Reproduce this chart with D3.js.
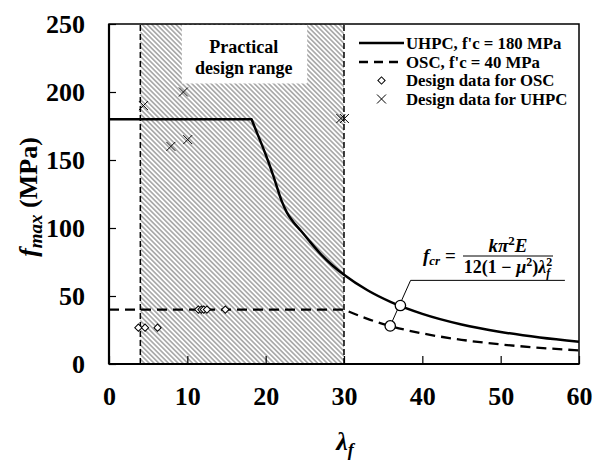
<!DOCTYPE html>
<html>
<head>
<meta charset="utf-8">
<script src="https://cdn.jsdelivr.net/npm/d3@7"></script>
<style>
  body { margin: 0; background: #fff; }
  text { font-family: "Liberation Serif", "Times New Roman", serif; font-weight: bold; }
</style>
</head>
<body>
<script>
// UHPC curve (f'c = 180 MPa)
var uhpcLambda = [0, 18.2, 19, 20, 21, 22, 22.7, 23.5, 24.5, 25.5, 27, 28.5, 30, 33, 36, 40, 45, 50, 55, 60];
var uhpcF      = [180, 180, 168.5, 154, 138, 120.5, 111.5, 104.6, 98, 91, 81, 72.6, 65.6, 54.2, 45.5, 36.9, 29.1, 23.6, 19.5, 16.4];

// OSC curve (f'c = 40 MPa)
var oscLambda = [0, 30, 33, 36, 40, 45, 50, 55, 60];
var oscF      = [40, 40, 33.2, 27.8, 22.5, 17.8, 14.4, 11.9, 10];

// design data points
var oscDataLambda = [3.75, 4.6, 6.2, 11.4, 11.8, 12.1, 12.5, 14.85];
var oscDataF      = [26.7, 26.7, 26.7, 40, 40, 40, 40, 40];
var uhpcDataLambda = [4.4, 9.5, 7.9, 10.05, 29.6, 30.05];
var uhpcDataF      = [190, 200, 160, 165, 180.5, 180.5];

// practical design range
var rangeLambda = [4, 30];

var xTicks = [0, 10, 20, 30, 40, 50, 60];
var yTicks = [0, 50, 100, 150, 200, 250];

var legendLabels = ["UHPC, f'c = 180 MPa", "OSC, f'c = 40 MPa", "Design data for OSC", "Design data for UHPC"];

var width = 593,
    height = 460;
var margin = {left: 109, right: 14, top: 24, bottom: 96};

var svg = d3.select('body')
  .append('svg')
  .attr('width', width)
  .attr('height', height);

var x = d3.scaleLinear().domain([0, 60]).range([margin.left, width - margin.right]);
var y = d3.scaleLinear().domain([0, 250]).range([height - margin.bottom, margin.top]);

// hatch pattern
var defs = svg.append('defs');
defs.append('pattern')
  .attr('id', 'hatch')
  .attr('patternUnits', 'userSpaceOnUse')
  .attr('width', 3.4)
  .attr('height', 3.4)
  .attr('patternTransform', 'rotate(45)')
  .append('line')
  .attr('x1', -1).attr('x2', 5)
  .attr('y1', 1.7).attr('y2', 1.7)
  .attr('stroke', '#a0a0a0')
  .attr('stroke-width', 1.5);

svg.append('rect')
  .attr('x', x(rangeLambda[0]))
  .attr('y', y(250))
  .attr('width', x(rangeLambda[1]) - x(rangeLambda[0]))
  .attr('height', y(0) - y(250))
  .attr('fill', 'url(#hatch)');

// white box behind the range label
svg.append('rect')
  .attr('x', x(9.3))
  .attr('y', y(250) + 1)
  .attr('width', x(25.3) - x(9.3))
  .attr('height', y(207) - y(250))
  .attr('fill', '#fff');

svg.append('text')
  .attr('text-anchor', 'middle')
  .attr('font-size', 18)
  .selectAll('tspan')
  .data(['Practical', 'design range'])
  .enter()
  .append('tspan')
  .attr('x', x(17.2))
  .attr('y', function(d, i) { return y(250) + 29 + i * 21; })
  .text(function(d) { return d; });

// range boundaries
rangeLambda.forEach(function(v) {
  svg.append('line')
    .attr('x1', x(v)).attr('x2', x(v))
    .attr('y1', y(0)).attr('y2', y(250))
    .attr('stroke', '#000')
    .attr('stroke-width', 1.5)
    .attr('stroke-dasharray', '6,3');
});

// curves: flat plateau drawn straight, the falling branch smoothed
var line = d3.line()
  .x(function(d) { return x(d[0]); })
  .y(function(d) { return y(d[1]); });

var smooth = d3.line()
  .x(function(d) { return x(d[0]); })
  .y(function(d) { return y(d[1]); })
  .curve(d3.curveMonotoneX);

var uhpc = uhpcLambda.map(function(v, i) { return [v, uhpcF[i]]; });
var osc = oscLambda.map(function(v, i) { return [v, oscF[i]]; });

svg.append('path')
  .attr('d', line(osc.slice(0, 2)) + smooth(osc.slice(1)).replace(/^M/, 'L'))
  .attr('fill', 'none')
  .attr('stroke', '#000')
  .attr('stroke-width', 2.3)
  .attr('stroke-dasharray', '10,6');

svg.append('path')
  .attr('d', line(uhpc.slice(0, 3)) + smooth(uhpc.slice(2)).replace(/^M/, 'L'))
  .attr('fill', 'none')
  .attr('stroke', '#000')
  .attr('stroke-width', 2.5)
  .attr('stroke-linejoin', 'round');

// design data markers
var diamond = d3.symbol().type(d3.symbolSquare).size(26);
var crossPath = 'M-4.5,-4.5L4.5,4.5M-4.5,4.5L4.5,-4.5';

svg.selectAll('.osc-pt')
  .data(oscDataLambda)
  .enter()
  .append('path')
  .attr('class', 'osc-pt')
  .attr('d', diamond)
  .attr('transform', function(d, i) { return 'translate(' + x(d) + ',' + y(oscDataF[i]) + ') rotate(45)'; })
  .attr('fill', '#fff')
  .attr('stroke', '#000')
  .attr('stroke-width', 1);

svg.selectAll('.uhpc-x')
  .data(uhpcDataLambda)
  .enter()
  .append('path')
  .attr('class', 'uhpc-x')
  .attr('d', crossPath)
  .attr('transform', function(d, i) { return 'translate(' + x(d) + ',' + y(uhpcDataF[i]) + ')'; })
  .attr('fill', 'none')
  .attr('stroke', '#000')
  .attr('stroke-width', 1);

// axes
var xAxis = d3.axisBottom(x)
  .tickValues(xTicks)
  .tickSizeInner(-8)
  .tickSizeOuter(0)
  .tickPadding(23);

var yAxis = d3.axisLeft(y)
  .tickValues(yTicks)
  .tickSizeInner(-7)
  .tickSizeOuter(0)
  .tickPadding(24);

var gx = svg.append('g')
  .attr('transform', 'translate(0,' + y(0) + ')')
  .call(xAxis);

var gy = svg.append('g')
  .attr('transform', 'translate(' + x(0) + ',0)')
  .call(yAxis);

[gx, gy].forEach(function(g) {
  g.selectAll('text')
    .attr('font-family', '"Liberation Serif", "Times New Roman", serif')
    .attr('font-weight', 'bold')
    .attr('font-size', 26)
    .attr('fill', '#000');
  g.selectAll('line').attr('stroke', '#000').attr('stroke-width', 1.2);
  g.select('.domain').remove();
});

// frame
svg.append('rect')
  .attr('x', x(0)).attr('y', y(250))
  .attr('width', x(60) - x(0))
  .attr('height', y(0) - y(250))
  .attr('fill', 'none')
  .attr('stroke', '#000')
  .attr('stroke-width', 1.5);

svg.append('line')
  .attr('x1', x(0)).attr('x2', x(60))
  .attr('y1', y(0)).attr('y2', y(0))
  .attr('stroke', '#000').attr('stroke-width', 2.2);
svg.append('line')
  .attr('x1', x(0)).attr('x2', x(0))
  .attr('y1', y(0)).attr('y2', y(250))
  .attr('stroke', '#000').attr('stroke-width', 2.2);

// axis titles
svg.append('text')
  .attr('transform', 'translate(37,' + ((y(0) + y(250)) / 2 + 3) + ') rotate(-90)')
  .attr('text-anchor', 'middle')
  .attr('font-size', 26)
  .call(function(t) {
    t.append('tspan').attr('font-style', 'italic').text('f');
    t.append('tspan').attr('font-style', 'italic').attr('font-size', 19).attr('dy', 5).text('max');
    t.append('tspan').attr('dy', -5).text(' (MPa)');
  });

svg.append('text')
  .attr('x', x(30) + 1)
  .attr('y', 450)
  .attr('text-anchor', 'middle')
  .attr('font-size', 26)
  .call(function(t) {
    t.append('tspan').attr('font-style', 'italic').text('λ');
    t.append('tspan').attr('font-style', 'italic').attr('font-size', 18).attr('dy', 6).text('f');
  });

// legend
var legend = svg.append('g');
var legY = [43, 62, 80.5, 99];
var lx0 = 359, lx1 = 404;

legend.append('line')
  .attr('x1', lx0).attr('x2', lx1).attr('y1', legY[0]).attr('y2', legY[0])
  .attr('stroke', '#000').attr('stroke-width', 2.5);
legend.append('line')
  .attr('x1', lx0).attr('x2', lx1).attr('y1', legY[1]).attr('y2', legY[1])
  .attr('stroke', '#000').attr('stroke-width', 2.3).attr('stroke-dasharray', '9,6');
legend.append('path')
  .attr('d', diamond)
  .attr('transform', 'translate(' + (lx0 + lx1) / 2 + ',' + legY[2] + ') rotate(45)')
  .attr('fill', '#fff').attr('stroke', '#000').attr('stroke-width', 1);
legend.append('path')
  .attr('d', crossPath)
  .attr('transform', 'translate(' + (lx0 + lx1) / 2 + ',' + legY[3] + ')')
  .attr('stroke', '#000').attr('stroke-width', 1);

legend.selectAll('.leg-text')
  .data(legendLabels)
  .enter()
  .append('text')
  .attr('class', 'leg-text')
  .attr('x', 406)
  .attr('y', function(d, i) { return legY[i]; })
  .attr('dy', '0.35em')
  .attr('font-size', 16.8)
  .text(function(d) { return d; });

// formula annotation with leader line
var circU = [37.2, 43], circO = [35.9, 28];
var knee = [38.5, 61.5], lineEnd = 58.2;

svg.append('path')
  .attr('d', 'M' + x(lineEnd) + ',' + y(knee[1]) + 'L' + x(knee[0]) + ',' + y(knee[1]) + 'L' + x(circO[0]) + ',' + y(circO[1]))
  .attr('fill', 'none').attr('stroke', '#000').attr('stroke-width', 1);

[circU, circO].forEach(function(c) {
  svg.append('circle')
    .attr('cx', x(c[0])).attr('cy', y(c[1])).attr('r', 5.2)
    .attr('fill', '#fff').attr('stroke', '#000').attr('stroke-width', 1.3);
});

var fx = 508, fBar = 256;
svg.append('text')
  .attr('x', 423).attr('y', fBar + 6)
  .attr('font-size', 19)
  .call(function(t) {
    t.append('tspan').attr('font-style', 'italic').text('f');
    t.append('tspan').attr('font-style', 'italic').attr('font-size', 13).attr('dy', 3).text('cr');
    t.append('tspan').attr('dy', -3).text(' =');
  });

svg.append('line')
  .attr('x1', 463).attr('x2', 553).attr('y1', fBar).attr('y2', fBar)
  .attr('stroke', '#000').attr('stroke-width', 1);

svg.append('text')
  .attr('x', fx).attr('y', fBar - 4)
  .attr('text-anchor', 'middle')
  .attr('font-size', 19)
  .call(function(t) {
    t.append('tspan').attr('font-style', 'italic').text('kπ');
    t.append('tspan').attr('font-size', 13).attr('dy', -7).text('2');
    t.append('tspan').attr('font-style', 'italic').attr('dy', 7).text('E');
  });

svg.append('text')
  .attr('x', fx).attr('y', fBar + 17)
  .attr('text-anchor', 'middle')
  .attr('font-size', 18)
  .call(function(t) {
    t.append('tspan').text('12(1 − ');
    t.append('tspan').attr('font-style', 'italic').text('μ');
    t.append('tspan').attr('font-size', 12).attr('dy', -7).text('2');
    t.append('tspan').attr('dy', 7).text(')');
    t.append('tspan').attr('font-style', 'italic').text('λ');
    t.append('tspan').attr('font-size', 12).attr('dy', -7).text('2');
    t.append('tspan').attr('font-style', 'italic').attr('font-size', 12).attr('dx', -6).attr('dy', 11).text('f');
  });
</script>
</body>
</html>
